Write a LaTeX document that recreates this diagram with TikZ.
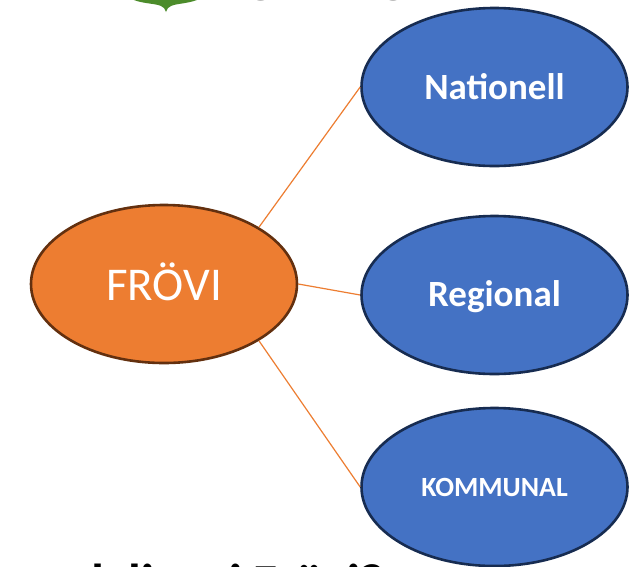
\documentclass[tikz,border=0pt]{standalone}
\usepackage{fontspec}
\setmainfont{Carlito}
\usetikzlibrary{shapes.geometric}
\definecolor{orfill}{HTML}{ED7D31}
\definecolor{orline}{HTML}{63300F}
\definecolor{blfill}{HTML}{4472C4}
\definecolor{blline}{HTML}{172C51}
\definecolor{leaf}{HTML}{4C8C2B}
\tikzset{
  x=1pt,y=-1pt,
  oval/.style={ellipse,draw,line width=2.6pt,inner sep=0pt,minimum width=266pt,minimum height=158pt},
  hub/.style={oval,fill=orfill,draw=orline,text=white,font=\fontsize{47}{47}\selectfont},
  leafnode/.style={oval,fill=blfill,draw=blline,text=white,font=\bfseries\fontsize{37}{37}\selectfont},
  link/.style={draw=orfill,line width=1.2pt},
  clipped/.style={anchor=base west,inner sep=0pt}
}
\begin{document}
\begin{tikzpicture}
\useasboundingbox (0,0) rectangle (641,566);
\clip (0,0) rectangle (641,566);
\fill[white] (0,0) rectangle (641,566);
% cropped logo
\fill[leaf] (128,-3) .. controls (138,4) and (155,3) .. (161,6) .. controls (164,7) and (165,9) .. (166,12) .. controls (167,9) and (168,7) .. (171,6) .. controls (177,3) and (192,4) .. (203,-3) -- cycle;
\node[clipped,text=black!65,font=\fontsize{56}{56}\selectfont] (logotext) at (216,0.8) {KOMMUN};
% cropped heading
\node[clipped,text=black,font=\bfseries\fontsize{52}{52}\selectfont] (heading) at (76,600) {d\hspace{13pt} live\hspace{-1.5pt}t\hspace{-4pt} i Frövi?};
\node[hub] (frovi) at (164,284) {\raisebox{-16pt}[0pt][0pt]{FRÖVI}};
\node[leafnode] (nat) at (494.5,87) {\raisebox{-12.5pt}[0pt][0pt]{Nationell}};
\node[leafnode] (reg) at (494.5,295) {\raisebox{-11.7pt}[0pt][0pt]{Regional}};
\node[leafnode,font=\bfseries\fontsize{27.8}{27.8}\selectfont] (kom) at (494.5,487) {\raisebox{-9.7pt}[0pt][0pt]{KOMMUNAL}};
\draw[link] (frovi.north east) -- (nat.west);
\draw[link] (frovi.east) -- (reg.west);
\draw[link] (frovi.south east) -- (kom.west);
\end{tikzpicture}
\end{document}
